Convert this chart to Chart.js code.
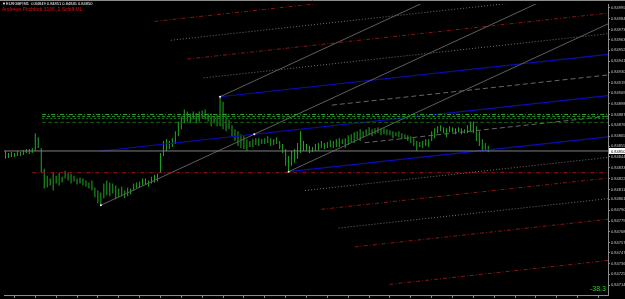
<!DOCTYPE html>
<html>
<head>
<meta charset="utf-8">
<script src="https://cdn.jsdelivr.net/npm/chart.js@4.4.1/dist/chart.umd.min.js"></script>
<style>
  html, body { margin: 0; padding: 0; background: #000; }
  canvas { display: block; }
</style>
</head>
<body>
<canvas id="priceChart" width="625" height="299"></canvas>
<script>
// bar highs / lows (one bar per index)
const barHigh = [
  0.84850,0.84848,0.84849,0.84848,0.84850,0.84849,0.84851,0.84852,0.84852,0.84853,
  0.84868,0.84864,0.84853,0.84832,0.84825,0.84822,0.84828,0.84825,0.84828,0.84824,
  0.84830,0.84828,0.84827,0.84825,0.84822,0.84823,0.84822,0.84820,0.84818,0.84820,
  0.84813,0.84810,0.84808,0.84817,0.84820,0.84818,0.84817,0.84815,0.84812,0.84814,
  0.84810,0.84813,0.84812,0.84817,0.84818,0.84819,0.84822,0.84822,0.84820,0.84824,
  0.84826,0.84827,0.84848,0.84860,0.84862,0.84860,0.84863,0.84870,0.84880,0.84885,
  0.84892,0.84890,0.84888,0.84890,0.84888,0.84890,0.84891,0.84892,0.84888,0.84888,
  0.84885,0.84887,0.84905,0.84900,0.84888,0.84882,0.84876,0.84872,0.84870,0.84867,
  0.84865,0.84862,0.84860,0.84862,0.84863,0.84863,0.84862,0.84863,0.84865,0.84863,
  0.84862,0.84864,0.84860,0.84857,0.84852,0.84845,0.84850,0.84852,0.84858,0.84870,
  0.84860,0.84857,0.84855,0.84854,0.84857,0.84858,0.84860,0.84858,0.84859,0.84861,
  0.84860,0.84862,0.84863,0.84862,0.84863,0.84866,0.84867,0.84869,0.84870,0.84872,
  0.84870,0.84872,0.84874,0.84872,0.84873,0.84874,0.84873,0.84873,0.84872,0.84871,
  0.84870,0.84869,0.84870,0.84868,0.84867,0.84866,0.84865,0.84863,0.84860,0.84859,
  0.84860,0.84862,0.84862,0.84870,0.84873,0.84875,0.84876,0.84874,0.84873,0.84875,
  0.84874,0.84873,0.84874,0.84873,0.84872,0.84876,0.84880,0.84880,0.84875,0.84870,
  0.84862,0.84858,0.84855
];
const barLow = [
  0.84842,0.84843,0.84844,0.84844,0.84845,0.84845,0.84846,0.84848,0.84847,0.84848,
  0.84850,0.84853,0.84828,0.84812,0.84813,0.84815,0.84810,0.84817,0.84815,0.84818,
  0.84822,0.84820,0.84817,0.84819,0.84816,0.84817,0.84815,0.84814,0.84812,0.84810,
  0.84803,0.84797,0.84795,0.84802,0.84805,0.84804,0.84807,0.84801,0.84803,0.84804,
  0.84802,0.84804,0.84806,0.84810,0.84812,0.84813,0.84815,0.84816,0.84814,0.84817,
  0.84818,0.84819,0.84828,0.84845,0.84850,0.84852,0.84854,0.84857,0.84865,0.84872,
  0.84878,0.84880,0.84878,0.84882,0.84878,0.84880,0.84883,0.84882,0.84880,0.84875,
  0.84878,0.84875,0.84875,0.84872,0.84870,0.84872,0.84865,0.84860,0.84855,0.84853,
  0.84852,0.84850,0.84854,0.84854,0.84856,0.84855,0.84857,0.84857,0.84858,0.84855,
  0.84856,0.84857,0.84852,0.84848,0.84835,0.84829,0.84835,0.84838,0.84842,0.84848,
  0.84850,0.84850,0.84848,0.84849,0.84850,0.84850,0.84853,0.84852,0.84853,0.84854,
  0.84853,0.84854,0.84854,0.84857,0.84853,0.84856,0.84859,0.84858,0.84862,0.84860,
  0.84864,0.84866,0.84866,0.84865,0.84867,0.84868,0.84866,0.84867,0.84866,0.84866,
  0.84863,0.84865,0.84864,0.84862,0.84863,0.84860,0.84858,0.84855,0.84850,0.84854,
  0.84853,0.84855,0.84854,0.84860,0.84863,0.84868,0.84870,0.84868,0.84864,0.84869,
  0.84869,0.84867,0.84869,0.84867,0.84868,0.84868,0.84870,0.84868,0.84860,0.84855,
  0.84850,0.84850,0.84849
];

// pitchfork pivots: low, high, low
const pivotBars = [32, 72, 95];
const pivotPrices = [0.84795, 0.84905, 0.84829];

// Schiff channel levels (in channel half-widths) and where each line begins
const schiffLevels = [1, 0, -1];
const halfLevels = [0.5, -0.5];
const halfStarts = [109.5, 120.5];
const warnUpper = [1.5, 2, 2.5, 3];
const warnUpperStarts = [66.5, 61, 55.5, 50];
const warnLower = [-1.5, -2, -2.5, -3, -4];
const warnLowerStarts = [100.5, 106, 111.8, 117.2, 128.8];

// horizontal levels
const priceLine = 0.84850;
const redLevel = 0.84828;
const redLevelStart = 9;
const fiboLevels = [0.84887, 0.84885, 0.84883, 0.84879];
const fiboStart = 12.3;

const priceTicks = [
  '0.84995','0.84984','0.84973','0.84963','0.84952','0.84941','0.84930','0.84919',
  '0.84909','0.84898','0.84887','0.84876','0.84865','0.84855','0.84844','0.84833',
  '0.84822','0.84811','0.84801','0.84790','0.84779','0.84768','0.84757','0.84747',
  '0.84736','0.84725','0.84714'
];
const lastPrice = '0.84850';
const titleText = '\u25BCEURGBP,M1  0.84849 0.84851 0.84845 0.84850';
const indicatorName = 'Andrews Pitchfork 3166_2 Schiff ML';
const indicatorValue = '-38.3';

const X_MIN = -0.5;
const X_MAX = -0.5 + 608 / 3;
const END_BAR = 215;

const [b0, b1, b2] = pivotBars;
const [p0, p1, p2] = pivotPrices;
const midBar = (b1 + b2) / 2, midPrice = (p1 + p2) / 2;
const andrewsSlope = (midPrice - p0) / (midBar - b0);
const schiffStart = (p0 + p1) / 2;
const schiffSlope = (midPrice - schiffStart) / (midBar - b0);
const channel = p1 - (schiffStart + schiffSlope * (b1 - b0));
const schiffAt = (bar, k) => schiffStart + schiffSlope * (bar - b0) + k * channel;

function seg(x0, y0, x1, y1, color, dash, width) {
  return {
    type: 'line',
    data: [{ x: x0, y: y0 }, { x: x1, y: y1 }],
    borderColor: color,
    borderDash: dash || [],
    borderWidth: width || 1,
    pointRadius: 0,
    tension: 0,
    order: 1
  };
}
function schiffLine(k, from, color, dash, width) {
  return seg(from, schiffAt(from, k), END_BAR, schiffAt(END_BAR, k), color, dash, width);
}

const datasets = [];

datasets.push({
  type: 'bar',
  data: barHigh.map((h, i) => ({ x: i, y: [barLow[i], h] })),
  backgroundColor: '#21a821',
  barThickness: 1,
  inflateAmount: 0,
  borderWidth: 0,
  order: 10
});

// horizontal lines
datasets.push(seg(X_MIN, priceLine, END_BAR, priceLine, '#7e7e7e'));
datasets.push(seg(redLevelStart, redLevel, END_BAR, redLevel, '#a01212', [4, 2, 1, 2]));
const fiboColors = ['#2aa82a', '#209420', '#1a761a', '#136013'];
const fiboDash = [[4, 2, 1, 2], [3, 2], [2, 2], [4, 2]];
fiboLevels.forEach((lv, i) => datasets.push(seg(fiboStart, lv, END_BAR, lv, fiboColors[i], fiboDash[i])));

// Andrews median + parallels (steep)
pivotBars.forEach((b, i) => {
  datasets.push(seg(b, pivotPrices[i], END_BAR, pivotPrices[i] + andrewsSlope * (END_BAR - b), '#5e5e5e'));
});

// Schiff channel
const schiffStarts = [b1, b0, b2];
schiffLevels.forEach((k, i) => datasets.push(schiffLine(k, schiffStarts[i], '#0c0cb8', [], 1.2)));
halfLevels.forEach((k, i) => datasets.push(schiffLine(k, halfStarts[i], '#666666', [5, 3])));
warnUpper.forEach((k, i) => {
  const whole = Number.isInteger(k);
  datasets.push(schiffLine(k, warnUpperStarts[i], whole ? '#861616' : '#707070', whole ? [4, 2, 1, 2] : [1, 2]));
});
warnLower.forEach((k, i) => {
  const whole = Number.isInteger(k);
  datasets.push(schiffLine(k, warnLowerStarts[i], whole ? '#861616' : '#707070', whole ? [4, 2, 1, 2] : [1, 2]));
});

// pivot markers
datasets.push({
  type: 'scatter',
  data: [
    { x: b0, y: p0 }, { x: b1, y: p1 }, { x: b2, y: p2 }, { x: midBar, y: midPrice }
  ],
  pointRadius: 1,
  pointBackgroundColor: '#ffffff',
  pointBorderWidth: 0,
  order: 0
});

const chartDecor = {
  id: 'chartDecor',
  beforeDraw(chart) {
    const c = chart.ctx;
    c.save();
    c.fillStyle = '#000';
    c.fillRect(0, 0, chart.width, chart.height);
    c.restore();
  },
  afterDraw(chart) {
    const c = chart.ctx;
    const y = chart.scales.y;
    c.save();
    c.strokeStyle = '#8c8c8c';
    c.lineWidth = 1;
    c.beginPath();
    c.moveTo(0, 0.5);
    c.lineTo(chart.width, 0.5);
    c.stroke();

    c.textBaseline = 'alphabetic';
    c.font = '4px Arial';
    c.fillStyle = '#ffffff';
    c.fillText(titleText, 2, 4.5);
    c.font = '5px Arial';
    c.fillStyle = '#e01010';
    c.fillText(indicatorName, 2, 10.5);

    c.font = '7px Arial';
    c.fillStyle = '#2ccf2c';
    c.fillText(indicatorValue, 590, 290.5);

    // last price box on the axis
    const py = y.getPixelForValue(parseFloat(lastPrice));
    c.fillStyle = '#ffffff';
    c.fillRect(609, py - 3, 16, 6);
    c.fillStyle = '#000000';
    c.font = '4px Arial';
    c.textBaseline = 'middle';
    c.fillText(lastPrice, 611, py + 0.5);
    c.restore();
  }
};

new Chart(document.getElementById('priceChart'), {
  data: { datasets },
  options: {
    responsive: false,
    animation: false,
    events: [],
    layout: { padding: { top: 1, left: 0, right: 0, bottom: 0 } },
    plugins: { legend: { display: false }, tooltip: { enabled: false } },
    scales: {
      x: {
        type: 'linear',
        min: X_MIN,
        max: X_MAX,
        offset: false,
        afterFit: s => { s.height = 3; },
        afterBuildTicks: s => {
          const t = [];
          for (let v = X_MIN; v <= X_MAX; v += 7) t.push({ value: v });
          s.ticks = t;
        },
        ticks: { display: false },
        grid: { drawOnChartArea: false, color: '#8c8c8c', tickLength: 3 },
        border: { color: '#8c8c8c' }
      },
      y: {
        position: 'right',
        min: 0.84704,
        max: 0.84999,
        afterFit: s => { s.width = 17; },
        afterBuildTicks: s => { s.ticks = priceTicks.map(t => ({ value: parseFloat(t) })); },
        ticks: {
          autoSkip: false,
          padding: 1,
          color: '#c4c4c4',
          font: { size: 4, family: 'Arial' },
          callback: v => v.toFixed(5)
        },
        grid: { drawOnChartArea: false, color: '#8c8c8c', tickLength: 2 },
        border: { color: '#8c8c8c' }
      }
    }
  },
  plugins: [chartDecor]
});
</script>
</body>
</html>
